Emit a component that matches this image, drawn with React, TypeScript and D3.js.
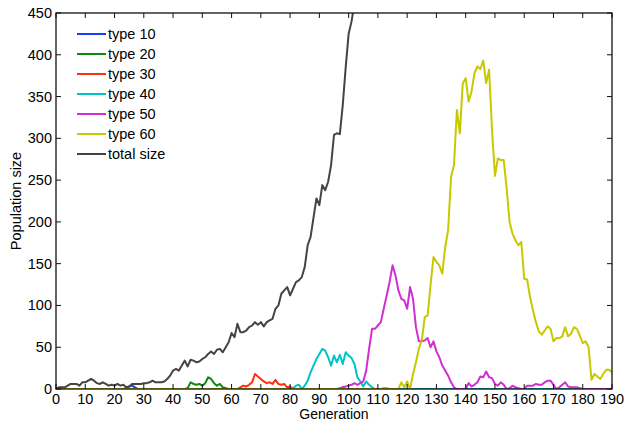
import * as d3 from "d3";

// generations are implicit: value i belongs to generation start + i
const generations = d3.range(0, 191);

const totalSize = [
  0, 2, 2, 2, 4, 6, 6, 6, 4, 8, 8, 10, 12, 10, 7, 6, 8, 6, 4, 5,
  4, 6, 4, 5, 2, 3, 6, 6, 6, 6, 7, 7, 8, 10, 8, 8, 8, 9, 12, 16,
  22, 24, 22, 28, 34, 27, 35, 34, 32, 33, 36, 38, 42, 45, 42, 47, 48, 44, 50, 56,
  67, 62, 78, 68, 68, 70, 74, 76, 80, 77, 80, 75, 80, 82, 84, 96, 100, 114, 118, 122,
  112, 120, 128, 130, 134, 146, 172, 182, 205, 228, 220, 244, 238, 248, 268, 304, 306, 305, 340, 385,
  425, 440, 462, 480,
];

const type10Start = 23;
const type10 = [0, 1, 3, 4, 2, 0];

const type20Start = 44;
const type20 = [0, 1, 8, 6, 5, 6, 4, 7, 14, 12, 7, 4, 6, 2, 1, 0];

const type30Start = 62;
const type30 = [0, 2, 4, 3, 5, 8, 18, 15, 12, 9, 7, 8, 6, 11, 6, 5, 6, 2, 3, 0];

const type40Start = 80;
const type40 = [
  0, 1, 4, 5, 0, 4, 10, 20, 28, 36, 42, 48, 46, 38, 28, 40, 32, 41, 30, 44,
  40, 37, 30, 14, 9, 3, 9, 5, 2, 0, 0, 0, 1, 1, 0,
];

const type50Start = 95;
const type50 = [
  0, 0, 1, 2, 3, 4, 5, 7, 5, 7, 9, 22, 48, 72, 72, 76, 80, 96, 112, 128,
  148, 136, 118, 108, 106, 96, 122, 108, 74, 57, 57, 58, 61, 50, 57, 45, 38, 28, 22, 16,
  8, 2, 0, 0, 0, 0, 7, 3, 5, 8, 15, 14, 21, 14, 13, 6, 4, 8, 5, 0,
  1, 4, 2, 1, 0, 0, 4, 4, 4, 6, 5, 5, 8, 10, 10, 5, 0, 2, 5, 8,
  3, 2, 2, 2, 1, 0,
];

const type60Start = 116;
const type60 = [
  0, 0, 8, 2, 9, 0, 18, 32, 48, 58, 86, 88, 125, 158, 152, 148, 138, 170, 190, 254,
  268, 334, 306, 366, 372, 344, 356, 378, 386, 383, 393, 366, 382, 310, 255, 276, 274, 274, 240, 200,
  186, 178, 172, 176, 132, 131, 110, 94, 80, 69, 65, 70, 75, 72, 57, 61, 61, 63, 74, 63,
  66, 74, 72, 64, 55, 57, 50, 11, 18, 15, 12, 18, 23, 23, 20,
];

const seriesNames = ["type 10", "type 20", "type 30", "type 40", "type 50", "type 60", "total size"];
const seriesColors = ["#1a3cf5", "#0e880e", "#ff2e12", "#00c4c8", "#d22ed2", "#c8c800", "#444444"];

const xTicks = d3.range(0, 191, 10);
const yTicks = d3.range(0, 451, 50);

function typeSeries(start: number, values: number[]) {
  return generations.map((g) => {
    const i = g - start;
    return { g, v: i >= 0 && i < values.length ? values[i] : 0 };
  });
}

const series = [
  typeSeries(type10Start, type10),
  typeSeries(type20Start, type20),
  typeSeries(type30Start, type30),
  typeSeries(type40Start, type40),
  typeSeries(type50Start, type50),
  typeSeries(type60Start, type60),
  totalSize.map((v, g) => ({ g, v })),
];

const W = 626;
const H = 422;
const margin = { top: 13, right: 14, bottom: 33, left: 56 };
const font = "'Liberation Sans', Arial, Helvetica, sans-serif";

export default function App() {
  const x = d3.scaleLinear().domain([0, 190]).range([margin.left, W - margin.right]);
  const y = d3.scaleLinear().domain([0, 450]).range([H - margin.bottom, margin.top]);

  const line = d3
    .line<{ g: number; v: number }>()
    .x((d) => x(d.g))
    .y((d) => y(d.v));

  const x0 = x(0), x1 = x(190), y0 = y(0), y1 = y(450);
  const tick = 5;

  return (
    <svg
      width={W}
      height={H}
      style={{ position: "absolute", left: 0, top: 0, background: "#fff" }}
      fontFamily={font}
    >
      <defs>
        <clipPath id="plot">
          <rect x={x0} y={y1} width={x1 - x0} height={y0 - y1} />
        </clipPath>
      </defs>

      <g clipPath="url(#plot)">
        {series.map((s, i) => (
          <path
            key={seriesNames[i]}
            d={line(s) ?? ""}
            fill="none"
            stroke={seriesColors[i]}
            strokeWidth={2}
            strokeLinejoin="round"
          />
        ))}
      </g>

      {/* box and inward ticks */}
      <rect x={x0} y={y1} width={x1 - x0} height={y0 - y1} fill="none" stroke="#111" strokeWidth={1.3} />
      {xTicks.map((t) => (
        <g key={"x" + t}>
          <line x1={x(t)} x2={x(t)} y1={y0} y2={y0 - tick} stroke="#111" strokeWidth={1} />
          <line x1={x(t)} x2={x(t)} y1={y1} y2={y1 + tick} stroke="#111" strokeWidth={1} />
          <text x={x(t)} y={y0 + 15} textAnchor="middle" fontSize={14.5} fill="#000">
            {t}
          </text>
        </g>
      ))}
      {yTicks.map((t) => (
        <g key={"y" + t}>
          <line x1={x0} x2={x0 + tick} y1={y(t)} y2={y(t)} stroke="#111" strokeWidth={1} />
          <line x1={x1} x2={x1 - tick} y1={y(t)} y2={y(t)} stroke="#111" strokeWidth={1} />
          <text x={x0 - 4} y={y(t) + 5} textAnchor="end" fontSize={14.5} fill="#000">
            {t}
          </text>
        </g>
      ))}

      <text x={(x0 + x1) / 2} y={H - 3} textAnchor="middle" fontSize={14} fill="#000">
        Generation
      </text>
      <text
        transform={`translate(21,${(y0 + y1) / 2}) rotate(-90)`}
        textAnchor="middle"
        fontSize={14.5}
        fill="#000"
      >
        Population size
      </text>

      {/* legend */}
      {seriesNames.map((name, i) => (
        <g key={"leg" + name} transform={`translate(77,${34 + i * 20})`}>
          <line x1={0} x2={29} y1={0} y2={0} stroke={seriesColors[i]} strokeWidth={2} />
          <text x={31} y={5} fontSize={14.5} fill="#000">
            {name}
          </text>
        </g>
      ))}
    </svg>
  );
}
